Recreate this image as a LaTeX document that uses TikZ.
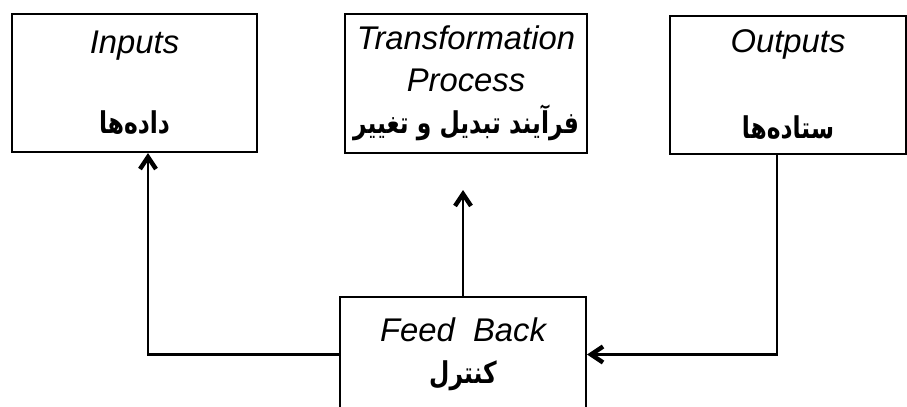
\documentclass[tikz,border=0pt]{standalone}
\usepackage{fontspec}
\setmainfont{Liberation Sans}
\newfontfamily\farsi[Script=Arabic,FakeStretch=0.78]{DejaVu Sans}
\TeXXeTstate=1
\usetikzlibrary{arrows.meta}
\newcommand{\fatext}[1]{{\farsi\bfseries\upshape\fontsize{15}{21}\selectfont\beginR #1\endR}}

\begin{document}
\begin{tikzpicture}[x=0.5pt,y=-0.5pt]
                \tikzset{box/.style={draw, line width=1.1pt, inner sep=0pt, align=center,
                font=\fontsize{16.4}{21}\selectfont\itshape},
                 arr/.style={line width=1.1pt, -{Straight Barb[length=6pt,width=8pt,line width=2.2pt]}}}

                \useasboundingbox (0,0) rectangle (907,407);

                \node[box, minimum width=122.5pt, minimum height=69pt] (inp) at (134.5,83)
                    {Inputs\\[19pt]\fatext{داده‌ها}};
                \node[box, minimum width=121pt, minimum height=69.5pt] (trans) at (466,83.5)
                    {Transformation\\Process\\\fatext{فرآیند تبدیل و تغییر}};
                \node[box, minimum width=118pt, minimum height=69pt] (out) at (788,85)
                    {Outputs\\[22pt]\fatext{ستاده‌ها}};
                \node[box, minimum width=123pt, minimum height=57.5pt] (feed) at (463,354.5)
                    {Feed\ \ Back\\\fatext{کنترل}};

                \coordinate (tin) at (463,190);

                \draw[arr] (feed.north) -- (tin);
                \draw[arr] (feed.west) -| ([xshift=6.75pt]inp.south);
                \draw[arr] ([xshift=-5.5pt]out.south) |- (feed.east);
            \end{tikzpicture}
\end{document}
